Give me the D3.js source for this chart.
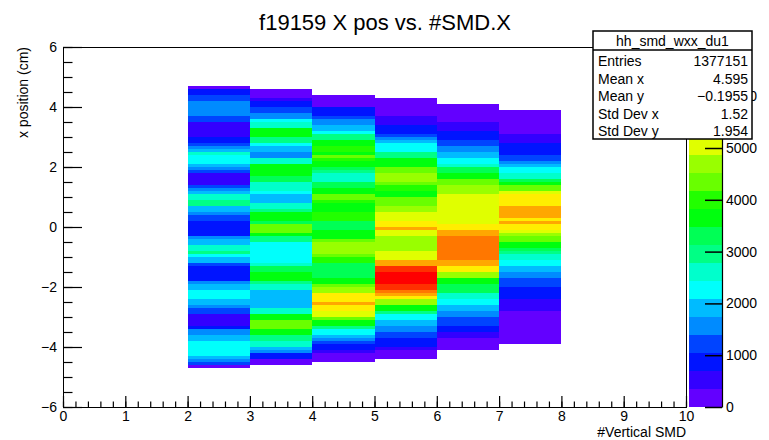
<!DOCTYPE html>
<html>
<head>
<meta charset="utf-8">
<script src="https://cdn.jsdelivr.net/npm/d3@7"></script>
<style>
body { margin: 0; background: #fff; }
text { font-family: "Liberation Sans", Arial, Helvetica, sans-serif; }
</style>
</head>
<body>
<svg id="vis"></svg>
<script>
// x bins (lower edge of each SMD column) and top y edge of each column
const smdBins = [2, 3, 4, 5, 6, 7];
const yTops = [4.7, 4.6, 4.4, 4.3, 4.1, 3.9];
const yBinWidth = 0.1;

// counts per 0.1 cm y bin, listed from the top bin down
const smd2 = [170,870,870,1220,1220,1560,1560,1560,1560,1560,
 1220,1220,520,520,520,520,520,870,870,1220,
 1560,1910,2610,2260,2260,2260,1910,1560,1220,520,
 520,520,520,1220,1560,1910,2610,2610,2950,2950,
 1910,1910,1560,1220,1220,870,870,870,870,870,
 1560,1910,1910,2610,2610,2950,2260,1910,1910,1220,
 870,870,870,870,870,1560,1910,1910,2260,2260,
 2260,1910,1910,1560,1220,1220,520,520,520,520,
 870,1560,1560,1910,1910,2260,2260,2260,2260,2260,
 1910,1560,1220,170];
const smd3 = [170,170,170,520,870,870,1220,1220,1560,1560,
 2260,2610,2610,3650,3650,3650,2950,2950,2260,1910,
 1910,1560,1560,2610,2610,3650,3650,3650,3650,3300,
 3300,2610,2610,2610,2260,1910,1910,1910,2610,2610,
 2950,3650,3650,3650,3300,4340,4340,4340,3650,2950,
 2950,2260,2260,2260,2260,2260,2260,2260,2610,3300,
 3300,3650,3650,3650,2950,2610,2610,1910,1910,1910,
 1910,1910,1910,2610,2610,3650,3650,4340,4340,4340,
 3650,3650,2950,2950,2610,2610,1910,1560,870,870,
 170,170];
const smd4 = [170,170,170,170,870,870,870,1220,1560,1560,
 1910,1910,2260,2950,2950,3650,3650,4000,4000,3650,
 4340,4000,3650,3650,3300,2950,2610,2610,2610,3300,
 3300,3650,3650,4340,4340,4000,3650,3650,3650,4000,
 4000,4000,3300,3300,3300,3650,3650,3650,4340,4690,
 4690,4690,4690,4340,4000,4000,3300,3300,3300,3300,
 3300,3650,3650,4340,4690,4690,5390,5390,5390,5730,
 5390,5390,5040,5040,4340,3650,3650,2950,2260,2260,
 1910,1560,1220,870,870,520,170,170,170];
const smd5 = [170,170,170,170,170,170,520,520,520,870,
 870,870,1220,1560,1910,2260,2260,2260,2950,2950,
 3650,3650,3650,4340,4340,4690,4690,4690,4340,4000,
 4000,3650,3650,4340,4340,4340,4690,4690,5040,5040,
 5040,5390,5390,5730,5040,5040,4690,4690,4690,4690,
 4690,5040,5040,5040,5730,5730,6430,6430,6780,6950,
 6780,6780,6430,6430,6080,5730,5390,4690,4690,3650,
 3650,2950,2260,2260,1910,1910,1560,1560,1220,1220,
 870,870,870,520,170,170,170];
const smd6 = [170,170,170,170,170,170,520,520,520,870,
 870,870,1220,1220,1560,1560,1910,1910,2260,2260,
 2610,3300,3300,3650,3650,4340,4340,4690,4690,4690,
 5040,5040,5040,5040,5040,5040,5040,5040,5040,5040,
 5390,5390,5730,5730,6080,6080,6080,6080,6080,6080,
 6080,6080,5730,5730,5390,5390,4690,4690,3650,3650,
 3300,3300,3300,2610,2610,2260,2260,1910,1910,1560,
 1560,1220,1220,1220,870,870,520,520,170,170,
 170,170];
const smd7 = [170,170,170,170,170,170,170,170,520,520,
 520,870,870,870,870,1220,1220,1560,1910,2260,
 2260,2610,2610,3300,3650,4340,4340,5040,5390,5390,
 5390,5390,5730,5730,5730,5730,5390,5730,5390,5390,
 5040,4690,4340,4340,3650,3650,3300,2950,2610,2610,
 2260,2260,1910,1910,1560,1560,1220,1220,1220,870,
 870,870,870,520,520,520,520,170,170,170,
 170,170,170,170,170,170,170,170];
const columns = [smd2, smd3, smd4, smd5, smd6, smd7];

const statLabels = ["Entries", "Mean x", "Mean y", "Std Dev x", "Std Dev y"];
const statValues = ["1377151", "4.595", "\u22120.1955", "1.52", "1.954"];
const histName = "hh_smd_wxx_du1";
const paletteTicks = [0, 1000, 2000, 3000, 4000, 5000, 6000];

const W = 769, H = 440;
const svg = d3.select("#vis").attr("width", W).attr("height", H);

const x = d3.scaleLinear().domain([0, 10]).range([63, 686]);
const y = d3.scaleLinear().domain([-6, 6]).range([407, 47]);

// build cell list from the column arrays
const cells = [];
columns.forEach((col, c) => {
    col.forEach((v, j) => {
        const top = yTops[c] - j * yBinWidth;
        cells.push({x0: smdBins[c], x1: smdBins[c] + 1, y1: top, y0: top - yBinWidth, v: v});
    });
});

const zmax = d3.max(cells, d => d.v);
const NCONT = 20;

// ROOT "pretty palette" (violet -> red), 20 contour levels
const levelColors = d3.range(NCONT).map(k => {
    const idx = Math.floor((k + 0.99) * 50 / NCONT);
    const hue = 280 - (idx + 1) * 5.6;
    return d3.hsl(hue, 1, 0.5).formatHex();
});
const color = d3.scaleQuantize().domain([0, zmax]).range(levelColors);

// cells
svg.append("g").selectAll("rect").data(cells).join("rect")
    .attr("x", d => x(d.x0))
    .attr("width", d => x(d.x1) - x(d.x0))
    .attr("y", d => y(d.y1))
    .attr("height", d => y(d.y0) - y(d.y1) + 0.4)
    .attr("fill", d => color(d.v))
    .attr("shape-rendering", "crispEdges");

// frame
svg.append("rect")
    .attr("x", x(0)).attr("y", y(6))
    .attr("width", x(10) - x(0)).attr("height", y(-6) - y(6))
    .attr("fill", "none").attr("stroke", "black").attr("stroke-width", 1)
    .attr("shape-rendering", "crispEdges");

// x axis: minor and major ticks
const xAxisG = svg.append("g").attr("transform", `translate(0,${y(-6)})`);
xAxisG.append("g")
    .call(d3.axisBottom(x).tickValues(d3.range(0, 10.01, 0.2)).tickSize(-5.5).tickFormat(""))
    .call(g => g.select(".domain").remove());
xAxisG.append("g")
    .call(d3.axisBottom(x).tickValues(d3.range(0, 11, 1)).tickSize(-11).tickPadding(4).tickFormat(d3.format("d")))
    .call(g => g.select(".domain").remove());
xAxisG.selectAll("text").attr("font-size", 14).attr("font-family", "Liberation Sans, Arial, sans-serif");
xAxisG.selectAll("line").attr("stroke-width", 1.2);

// y axis
const fmtMinus = d => d3.format("d")(d).replace("-", "\u2212");
const yAxisG = svg.append("g").attr("transform", `translate(${x(0)},0)`);
yAxisG.append("g")
    .call(d3.axisLeft(y).tickValues(d3.range(-6, 6.01, 0.5)).tickSize(-9.5).tickFormat(""))
    .call(g => g.select(".domain").remove());
yAxisG.append("g")
    .call(d3.axisLeft(y).tickValues(d3.range(-6, 7, 2)).tickSize(-19).tickPadding(6).tickFormat(fmtMinus))
    .call(g => g.select(".domain").remove());
yAxisG.selectAll("text").attr("font-size", 14).attr("font-family", "Liberation Sans, Arial, sans-serif");
yAxisG.selectAll("line").attr("stroke-width", 1.2);

// axis titles
svg.append("text")
    .attr("x", x(10)).attr("y", 437)
    .attr("text-anchor", "end").attr("font-size", 14)
    .text("#Vertical SMD");
svg.append("text")
    .attr("transform", `translate(28,${y(6)}) rotate(-90)`)
    .attr("text-anchor", "end").attr("font-size", 14)
    .text("x position (cm)");

// title
svg.append("text")
    .attr("x", 385).attr("y", 30)
    .attr("text-anchor", "middle").attr("font-size", 22)
    .text("f19159 X pos vs. #SMD.X");

// palette
const PX0 = 689, PX1 = 722;
const z = d3.scaleLinear().domain([0, zmax]).range([y(-6), y(6)]);
const bands = d3.range(NCONT).map(k => ({lo: k * zmax / NCONT, hi: (k + 1) * zmax / NCONT, c: levelColors[k]}));
svg.append("g").selectAll("rect").data(bands).join("rect")
    .attr("x", PX0).attr("width", PX1 - PX0)
    .attr("y", d => z(d.hi)).attr("height", d => z(d.lo) - z(d.hi) + 0.4)
    .attr("fill", d => d.c)
    .attr("shape-rendering", "crispEdges");
const zAxisG = svg.append("g").attr("transform", `translate(${PX1},0)`)
    .call(d3.axisRight(z).tickValues(paletteTicks).tickSize(-17).tickSizeOuter(0).tickPadding(4).tickFormat(d3.format("d")));
zAxisG.selectAll("text").attr("font-size", 14).attr("font-family", "Liberation Sans, Arial, sans-serif");
zAxisG.selectAll("line").attr("stroke-width", 1.5);
zAxisG.select(".domain").attr("stroke-width", 1.2);

// stats box
const SB = {x: 593, y: 31, w: 159, h: 108};
const stats = svg.append("g");
stats.append("rect")
    .attr("x", SB.x).attr("y", SB.y).attr("width", SB.w).attr("height", SB.h)
    .attr("fill", "white").attr("stroke", "black").attr("stroke-width", 1.5);
stats.append("line")
    .attr("x1", SB.x).attr("x2", SB.x + SB.w).attr("y1", SB.y + 19).attr("y2", SB.y + 19)
    .attr("stroke", "black").attr("stroke-width", 1.5);
stats.append("text")
    .attr("x", SB.x + SB.w / 2).attr("y", SB.y + 15)
    .attr("text-anchor", "middle").attr("font-size", 14)
    .text(histName);
stats.selectAll(".slab").data(statLabels).join("text")
    .attr("class", "slab")
    .attr("x", SB.x + 5).attr("y", (d, i) => SB.y + 35 + i * 17.6)
    .attr("font-size", 14)
    .text(d => d);
stats.selectAll(".sval").data(statValues).join("text")
    .attr("class", "sval")
    .attr("x", SB.x + SB.w - 4).attr("y", (d, i) => SB.y + 35 + i * 17.6)
    .attr("text-anchor", "end").attr("font-size", 14)
    .text(d => d);
</script>
</body>
</html>
